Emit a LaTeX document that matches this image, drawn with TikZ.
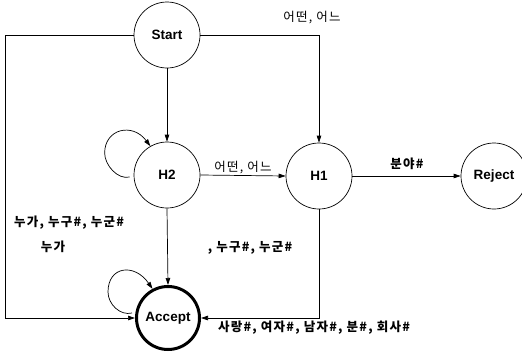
\documentclass[tikz,border=0pt]{standalone}
\usepackage{fontspec}
\setmainfont{Liberation Sans}
\newfontfamily\kor[LetterSpace=10]{Noto Sans CJK KR}
\usetikzlibrary{arrows.meta}
\begin{document}
\begin{tikzpicture}[x=1pt,y=-1pt,
  state/.style={circle,draw,line width=0.7pt,minimum size=66pt,inner sep=0pt,
    font=\fontsize{13.5}{13.5}\selectfont\bfseries},
  final/.style={state,line width=3pt,minimum size=63pt},
  arr/.style={line width=0.7pt,-{Triangle[length=7pt,width=4.5pt]}},
  lab/.style={inner sep=0pt,font=\kor\fontsize{12.5}{12.5}\selectfont},
  blab/.style={lab,font=\kor\fontsize{12.5}{12.5}\selectfont\bfseries}]
\useasboundingbox (0,0) rectangle (522,351);
\clip (0,0) rectangle (522,351);

% states
\node[state] (Start) at (167,35) {Start};
\node[state] (H2) at (167,175) {H2};
\node[state] (H1) at (319,176) {H1};
\node[state] (Reject) at (494,176) {Reject};
\node[final] (Accept) at (168,318) {Accept};
\coordinate (L) at (5,0);

% transitions
\draw[arr] (Start.south) -- (H2.north);
\draw[arr] (Start.east) -| (H1.north);
\draw[arr] (Start.west) -- (Start.west -| L) -- (Accept.west -| L) -- (Accept.west);
\draw[arr] (H2.east) -- (H1.west);
\draw[arr] (H1.east) -- (Reject.west);
\draw[arr] (H2.south) -- (Accept.north);
\draw[arr] (H1.south) |- (Accept.east);

% self loops
\draw[arr] ([xshift=-4pt,yshift=-2pt]H2.west)
  .. controls +(-12,3) and +(0,12) .. ++(-25,-24)
  .. controls +(0,-24) and +(-18,-24) .. (H2.120);
\draw[arr] ([xshift=-3pt,yshift=5pt]Accept.west)
  .. controls +(-12,3) and +(0,12) .. ++(-24,-21)
  .. controls +(0,-26) and +(-18,-26) .. (Accept.118);

% labels
\node[lab] (l1) at (312,18) {어떤, 어느};
\node[lab] (l2) at (243,168) {어떤, 어느};
\node[blab] (l3) at (407,164) {분야\#};
\node[blab] (l4) at (69,223) {누가, 누구\#, 누군\#};
\node[blab] (l5) at (53,247) {누가};
\node[blab] (l6) at (250,248) {, 누구\#, 누군\#};
\node[blab] (l7) at (314,328) {사랑\#, 여자\#, 남자\#, 분\#, 회사\#};
\end{tikzpicture}
\end{document}
